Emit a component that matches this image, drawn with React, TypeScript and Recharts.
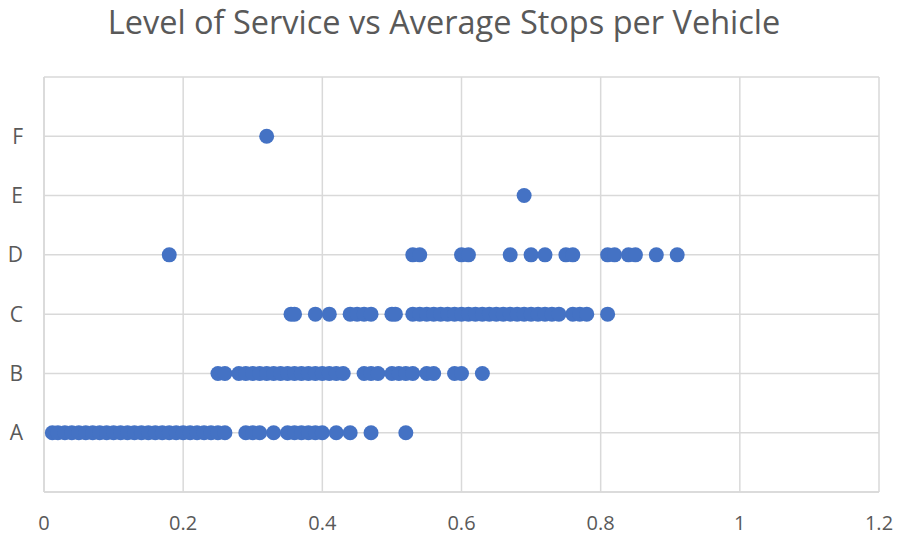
import { ScatterChart, Scatter, XAxis, YAxis, CartesianGrid } from 'recharts';

const LEVELS = ['', 'A', 'B', 'C', 'D', 'E', 'F', ''];

// average stops per vehicle, one list per level of service
const STOPS_A = [
  0.012, 0.02, 0.03, 0.04, 0.05, 0.06, 0.07, 0.08, 0.09, 0.1, 0.11, 0.12, 0.13,
  0.14, 0.15, 0.16, 0.17, 0.18, 0.19, 0.2, 0.21, 0.22, 0.23, 0.24, 0.25, 0.26,
  0.29, 0.3, 0.31, 0.33, 0.35, 0.36, 0.37, 0.38, 0.39, 0.4, 0.42, 0.44, 0.47, 0.52,
];
const STOPS_B = [
  0.25, 0.26, 0.28, 0.29, 0.3, 0.31, 0.32, 0.33, 0.34, 0.35, 0.36, 0.37, 0.38,
  0.39, 0.4, 0.41, 0.42, 0.43, 0.46, 0.47, 0.48, 0.5, 0.51, 0.52, 0.53, 0.55,
  0.56, 0.59, 0.6, 0.63,
];
const STOPS_C = [
  0.355, 0.36, 0.39, 0.41, 0.44, 0.45, 0.46, 0.47, 0.5, 0.505, 0.53, 0.54, 0.55,
  0.56, 0.57, 0.58, 0.59, 0.6, 0.61, 0.62, 0.63, 0.64, 0.65, 0.66, 0.67, 0.68,
  0.69, 0.7, 0.71, 0.72, 0.73, 0.74, 0.76, 0.77, 0.78, 0.81,
];
const STOPS_D = [0.18, 0.53, 0.54, 0.6, 0.61, 0.67, 0.7, 0.72, 0.75, 0.76, 0.81, 0.82, 0.84, 0.85, 0.88, 0.91];
const STOPS_E = [0.69];
const STOPS_F = [0.32];

const X_TICKS = [0, 0.2, 0.4, 0.6, 0.8, 1, 1.2];
const Y_TICKS = [0, 1, 2, 3, 4, 5, 6, 7];

const rows = [STOPS_A, STOPS_B, STOPS_C, STOPS_D, STOPS_E, STOPS_F];
const data = rows.flatMap((xs, i) => xs.map(x => ({ x, y: i + 1 })));

const FONT = '"Open Sans", sans-serif';
const GRID = '#d9d9d9';
const TEXT = '#595959';

const Dot = (props: any) => <circle cx={props.cx} cy={props.cy} r={7.5} fill="#4472C4" />;

export default function App() {
  return (
    <div style={{ position: 'absolute', left: 0, top: 0, width: 911, height: 538, background: '#fff', fontFamily: FONT }}>
      <div style={{ position: 'absolute', top: 0, left: 0, width: 888, textAlign: 'center', fontSize: 32.5, color: TEXT, lineHeight: '44px' }}>
        Level of Service vs Average Stops per Vehicle
      </div>
      <ScatterChart width={911} height={538} margin={{ top: 77, right: 32, bottom: 0, left: 0 }}>
        <CartesianGrid stroke={GRID} strokeWidth={1.5} horizontal vertical />
        <XAxis
          type="number"
          dataKey="x"
          domain={[0, 1.2]}
          ticks={X_TICKS}
          tickFormatter={(v: number) => String(Number(v.toFixed(1)))}
          height={46}
          tickLine={false}
          axisLine={{ stroke: GRID, strokeWidth: 1.5 }}
          tickMargin={18}
          tick={{ fill: TEXT, fontSize: 20, fontFamily: FONT }}
        />
        <YAxis
          type="number"
          dataKey="y"
          domain={[0, 7]}
          ticks={Y_TICKS}
          tickFormatter={(v: number) => LEVELS[v]}
          width={44}
          tickLine={false}
          axisLine={{ stroke: GRID, strokeWidth: 1.5 }}
          tickMargin={15}
          tick={{ fill: TEXT, fontSize: 21, fontFamily: FONT }}
        />
        <Scatter data={data} shape={Dot} isAnimationActive={false} />
      </ScatterChart>
    </div>
  );
}
